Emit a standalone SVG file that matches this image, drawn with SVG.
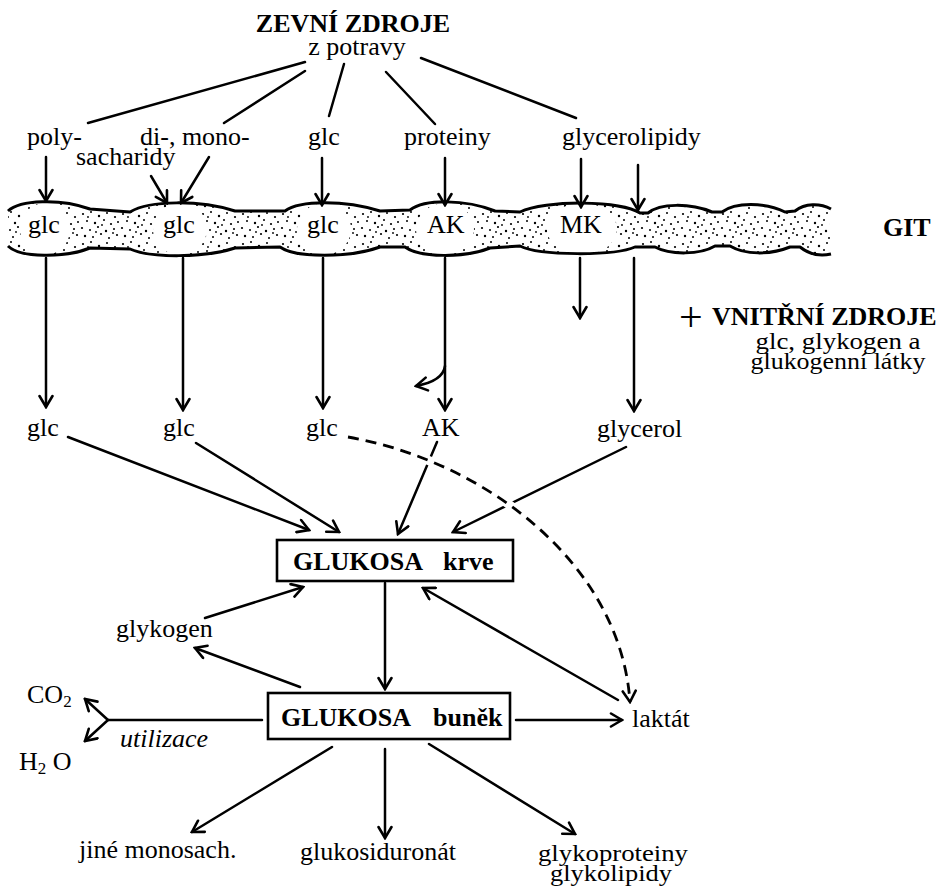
<svg xmlns="http://www.w3.org/2000/svg" width="950" height="888" viewBox="0 0 950 888">
<style>
text{font-family:"Liberation Serif","Times New Roman",serif;font-size:26px;fill:#000}
.b{font-weight:bold}
.i{font-style:italic}
.ln{fill:none;stroke:#000;stroke-width:2.5;stroke-linecap:round}
.ar{marker-end:url(#ah)}
.edge{fill:none;stroke:#000;stroke-width:3;stroke-linejoin:round}
.box{fill:#fff;stroke:#000;stroke-width:2.6}
.sub{font-size:17px}
.sm{font-size:24px}
</style>
<defs>
<marker id="ah" viewBox="-13 -8 15 16" refX="0" refY="0" markerWidth="15" markerHeight="16" markerUnits="userSpaceOnUse" orient="auto">
<path d="M-11,-6.5 L0,0 L-11,6.5" fill="none" stroke="#000" stroke-width="2.6" stroke-linecap="round"/>
</marker>
<pattern id="dots" width="40" height="30" patternUnits="userSpaceOnUse">
<g fill="#000">
<circle cx="3" cy="4" r="1.1"/><circle cx="11" cy="2" r="1"/><circle cx="19" cy="6" r="1.2"/><circle cx="27" cy="3" r="1"/><circle cx="35" cy="7" r="1.1"/>
<circle cx="7" cy="11" r="1"/><circle cx="15" cy="13" r="1.2"/><circle cx="24" cy="10" r="1"/><circle cx="31" cy="14" r="1.1"/><circle cx="38" cy="12" r="1"/>
<circle cx="2" cy="18" r="1.1"/><circle cx="10" cy="20" r="1"/><circle cx="18" cy="17" r="1.1"/><circle cx="26" cy="21" r="1.2"/><circle cx="34" cy="19" r="1"/>
<circle cx="5" cy="26" r="1.2"/><circle cx="13" cy="27" r="1"/><circle cx="21" cy="24" r="1.1"/><circle cx="29" cy="28" r="1"/><circle cx="37" cy="25" r="1.1"/>
<circle cx="8" cy="7" r="0.9"/><circle cx="22" cy="15" r="0.9"/><circle cx="33" cy="23" r="0.9"/><circle cx="16" cy="22" r="0.9"/>
</g>
</pattern>
</defs>
<rect width="950" height="888" fill="#fff"/>

<g id="git-band">
<rect x="8" y="195" width="822" height="70" fill="url(#dots)"/>
<path fill="#fff" d="M8,211 C20,200 60,198 90,209 L130,212 C150,200 200,200 235,211 L285,211 C300,200 345,200 380,211 L410,210 C425,199 465,199 495,211 L520,212 C545,200 620,200 640,213 L648,213 C660,203 690,203 712,212 L722,212 C735,202 765,202 785,212 L795,211 C805,203 820,203 831,209 L831,190 L8,190 Z"/>
<path fill="#fff" d="M8,246 C20,258 65,258 90,248 L130,249 C150,258 205,258 235,248 L280,247 C295,258 350,258 380,247 L405,247 C420,258 465,258 490,248 L520,246 C540,256 615,256 635,247 L655,247 C670,255 700,255 715,246 L730,246 C745,255 770,255 790,247 L800,247 C810,255 822,256 831,254 L831,270 L8,270 Z"/>
<g fill="#fff">
<ellipse cx="45" cy="229" rx="25" ry="26"/>
<ellipse cx="180" cy="229" rx="27" ry="26"/>
<ellipse cx="324" cy="229" rx="27" ry="26"/>
<ellipse cx="445" cy="229" rx="29" ry="26"/>
<ellipse cx="582" cy="229" rx="35" ry="26"/>
</g>
<path class="edge" d="M8,211 C20,200 60,198 90,209 L130,212 C150,200 200,200 235,211 L285,211 C300,200 345,200 380,211 L410,210 C425,199 465,199 495,211 L520,212 C545,200 620,200 640,213 L648,213 C660,203 690,203 712,212 L722,212 C735,202 765,202 785,212 L795,211 C805,203 820,203 831,209"/>
<path class="edge" d="M8,246 C20,258 65,258 90,248 L130,249 C150,258 205,258 235,248 L280,247 C295,258 350,258 380,247 L405,247 C420,258 465,258 490,248 L520,246 C540,256 615,256 635,247 L655,247 C670,255 700,255 715,246 L730,246 C745,255 770,255 790,247 L800,247 C810,255 822,256 831,254"/>
<text x="28" y="233">glc</text>
<text x="163" y="233">glc</text>
<text x="307" y="233">glc</text>
<text x="427" y="233">AK</text>
<text x="560" y="233">MK</text>
</g>

<g id="connectors">
<path class="ln" d="M305,62 L88,123"/>
<path class="ln" d="M305,71 L224,123"/>
<path class="ln" d="M344,64 L329,116"/>
<path class="ln" d="M386,72 L435,124"/>
<path class="ln" d="M421,58 L576,118"/>

<path class="ln ar" d="M46,157 L46,201"/>
<path class="ln ar" d="M151,176 L167,203"/>
<path class="ln ar" d="M209,157 L181,203"/>
<path class="ln ar" d="M322,158 L322,205"/>
<path class="ln ar" d="M445,158 L445,205"/>
<path class="ln ar" d="M581,159 L581,207"/>
<path class="ln ar" d="M638,165 L638,210"/>

<path class="ln ar" d="M46,258 L46,407"/>
<path class="ln ar" d="M183,258 L183,410"/>
<path class="ln ar" d="M323,258 L323,408"/>
<path class="ln ar" d="M445,258 L445,410"/>
<path class="ln ar" d="M445,366 Q443,381 416,386"/>
<path class="ln ar" d="M580,258 L580,318"/>
<path class="ln ar" d="M634,258 L634,411"/>

<path class="ln ar" d="M68,437 L309,530"/>
<path class="ln ar" d="M196,443 L339,532"/>
<path class="ln ar" d="M437,442 L398,534"/>
<path class="ln ar" d="M626,447 L453,532"/>

<path d="M348,437 C480,460 620,560 630,700" fill="none" stroke="#fff" stroke-width="9"/>
<path d="M348,437 C480,460 620,560 630,702" fill="none" stroke="#000" stroke-width="2.8" stroke-dasharray="11,7" marker-end="url(#ah)"/>

<path class="ln ar" d="M385,583 L385,689"/>
<path class="ln ar" d="M205,618 L303,587"/>
<path class="ln ar" d="M300,687 L195,648"/>
<path class="ln ar" d="M618,700 L423,588"/>
<path class="ln ar" d="M516,720 L622,720"/>
<path class="ln" d="M262,720 L108,720"/>
<path class="ln ar" d="M108,720 L85,699"/>
<path class="ln ar" d="M108,720 L85,741"/>
<path class="ln ar" d="M332,747 L192,832"/>
<path class="ln ar" d="M385,749 L385,838"/>
<path class="ln ar" d="M429,744 L575,834"/>
</g>

<g id="zevni-zdroje">
<text class="b" x="353" y="32" text-anchor="middle">ZEVNÍ ZDROJE</text>
<text x="357" y="55" text-anchor="middle">z potravy</text>
</g>
<g id="poly"><text x="27" y="145">poly-</text></g>
<g id="dimono"><text x="140" y="145">di-, mono-</text><text x="76" y="165">sacharidy</text></g>
<g id="glc-top"><text x="308" y="145">glc</text></g>
<g id="proteiny"><text x="404" y="145">proteiny</text></g>
<g id="glycerolipidy"><text x="562" y="145">glycerolipidy</text></g>
<g id="git"><text class="b" x="883" y="236">GIT</text></g>
<g id="vnitrni-zdroje">
<text x="679" y="331" style="font-size:42px">+</text>
<text class="b" x="712" y="325">VNITŘNÍ ZDROJE</text>
<text class="sm" x="838" y="349" text-anchor="middle" textLength="165" lengthAdjust="spacingAndGlyphs">glc, glykogen a</text>
<text class="sm" x="838" y="369" text-anchor="middle" textLength="175" lengthAdjust="spacingAndGlyphs">glukogenní látky</text>
</g>
<g id="glc1"><text x="27" y="436">glc</text></g>
<g id="glc2"><text x="163" y="436">glc</text></g>
<g id="glc3"><text x="306" y="436">glc</text></g>
<g id="ak"><text x="422" y="436">AK</text></g>
<g id="glycerol"><text x="597" y="437">glycerol</text></g>
<g id="glukosa-krve">
<rect class="box" x="277" y="540" width="236" height="41"/>
<text class="b" x="293" y="570">GLUKOSA</text>
<text class="b" x="443" y="570">krve</text>
</g>
<g id="glukosa-bunek">
<rect class="box" x="268" y="693" width="242" height="46"/>
<text class="b" x="281" y="726">GLUKOSA</text>
<text class="b" x="433" y="726">buněk</text>
</g>
<g id="glykogen"><text x="116" y="637">glykogen</text></g>
<g id="co2"><text x="27" y="703">CO<tspan class="sub" dy="4">2</tspan></text></g>
<g id="h2o"><text x="19" y="770">H<tspan class="sub" dy="4">2</tspan><tspan dy="-4"> O</tspan></text></g>
<g id="utilizace"><text class="i" x="120" y="747">utilizace</text></g>
<g id="laktat"><text x="632" y="727">laktát</text></g>
<g id="jine"><text x="79" y="858">jiné monosach.</text></g>
<g id="glukosiduronat"><text x="300" y="860">glukosiduronát</text></g>
<g id="glykoproteiny">
<text class="sm" x="613" y="861" text-anchor="middle" textLength="150" lengthAdjust="spacingAndGlyphs">glykoproteiny</text>
<text class="sm" x="611" y="881" text-anchor="middle" textLength="122" lengthAdjust="spacingAndGlyphs">glykolipidy</text>
</g>
</svg>
